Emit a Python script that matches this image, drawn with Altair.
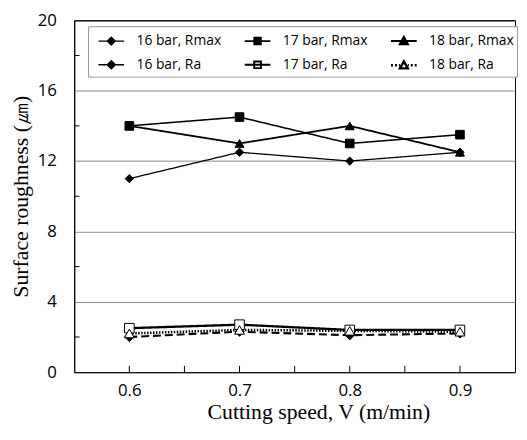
import altair as alt
import pandas as pd

# ---- data ----
speeds = [0.6, 0.7, 0.8, 0.9]
series = ["16 bar, Rmax", "17 bar, Rmax", "18 bar, Rmax",
          "16 bar, Ra", "17 bar, Ra", "18 bar, Ra"]
r16_rmax = [11.0, 12.5, 12.0, 12.5]
r17_rmax = [14.0, 14.5, 13.0, 13.5]
r18_rmax = [14.0, 13.0, 14.0, 12.5]
r16_ra = [2.0, 2.3, 2.1, 2.2]
r17_ra = [2.5, 2.7, 2.4, 2.4]
r18_ra = [2.2, 2.4, 2.35, 2.3]
all_values = [r16_rmax, r17_rmax, r18_rmax, r16_ra, r17_ra, r18_ra]

y_major = [0, 4, 8, 12, 16, 20]
y_minor = [2, 6, 10, 14, 18]
x_labels = [0.6, 0.7, 0.8, 0.9]
x_minor = [0.6, 0.65, 0.7, 0.75, 0.8, 0.85, 0.9]
x_min, x_max = 0.55, 0.95
y_min, y_max = 0, 20

# inward tick marks (length expressed as a small fraction of each axis range)
x_tick_len = 0.36    # in y units
y_tick_len = 0.0048  # in x units

rows = []
for name, vals in zip(series, all_values):
    for s, v in zip(speeds, vals):
        rows.append({"speed": s, "roughness": v, "series": name, "kind": "data",
                     "speed2": s, "roughness2": v})
for t in x_minor:
    rows.append({"speed": t, "roughness": y_min, "series": "", "kind": "xtick",
                 "speed2": t, "roughness2": y_min + x_tick_len})
for t in y_minor:
    rows.append({"speed": x_min, "roughness": t, "series": "", "kind": "ytick",
                 "speed2": x_min + y_tick_len, "roughness2": t})
df = pd.DataFrame(rows)

# ---- styles ----
dashes = [[1, 0], [1, 0], [1, 0], [8, 4], [1, 0], [1.5, 1.5]]
widths = [1.3, 2.6, 1.3, 2.6, 1.3, 1.5]
shapes = ["diamond", "square", "triangle-up", "diamond", "square", "triangle-up"]
fills = ["black", "black", "black", "black", "white", "white"]
sizes = [70, 100, 80, 70, 100, 70]

# legend is filled column by column (2 rows x 3 columns)
legend_order = ["16 bar, Rmax", "16 bar, Ra", "17 bar, Rmax",
                "17 bar, Ra", "18 bar, Rmax", "18 bar, Ra"]
line_solid = "M-1.3,0L1.3,0"
line_dotted = ("M-1.3,0L-1.1,0M-0.9,0L-0.7,0M-0.5,0L-0.4,0"
               "M0.4,0L0.5,0M0.7,0L0.9,0M1.1,0L1.3,0")
diamond = "M0,-0.4L0.4,0L0,0.4L-0.4,0Z"
square = "M-0.34,-0.34L0.34,-0.34L0.34,0.34L-0.34,0.34Z"
triangle = "M0,-0.4L0.4,0.32L-0.4,0.32Z"
legend_paths = [line_solid + diamond, line_solid + diamond,
                line_solid + square, line_solid + square,
                line_solid + triangle, line_dotted + triangle]
legend_fills = ["black", "black", "black", "white", "black", "white"]
legend_widths = [1.3, 2.4, 2.4, 1.2, 1.3, 1.2]

x_scale = alt.Scale(domain=[x_min, x_max], nice=False, zero=False)
y_scale = alt.Scale(domain=[y_min, y_max], nice=False)
x_axis = alt.Axis(values=x_labels, format=".1f", ticks=False, grid=False,
                  title="Cutting speed, V (m/min)", labelPadding=11, titlePadding=3,
                  titleX=247, titleAlign="center")
y_axis = alt.Axis(values=y_major, ticks=False, grid=True,
                  gridColor={"condition": {"test": "datum.value >= 20", "value": "black"},
                             "value": "#8c8c8c"},
                  title="Surface roughness (㎛)", labelPadding=18, titlePadding=5)

x_enc = alt.X("speed:Q", scale=x_scale, axis=x_axis)
y_enc = alt.Y("roughness:Q", scale=y_scale, axis=y_axis)

base = alt.Chart(df)
data_part = base.transform_filter("datum.kind == 'data'")

lines = data_part.mark_line(color="black").encode(
    x=x_enc, y=y_enc, detail="series:N",
    strokeDash=alt.StrokeDash("series:N", scale=alt.Scale(domain=series, range=dashes), legend=None),
    strokeWidth=alt.StrokeWidth("series:N", scale=alt.Scale(domain=series, range=widths), legend=None),
)

points = data_part.mark_point(filled=True, stroke="black", strokeWidth=1, opacity=1).encode(
    x=x_enc, y=y_enc,
    shape=alt.Shape("series:N", scale=alt.Scale(domain=series, range=shapes), legend=None),
    fill=alt.Fill("series:N", scale=alt.Scale(domain=series, range=fills), legend=None),
    size=alt.Size("series:N", scale=alt.Scale(domain=series, range=sizes), legend=None),
)

ticks = base.transform_filter("datum.kind != 'data'").mark_rule(
    color="black", strokeWidth=1, opacity=1).encode(
    x=x_enc, y=y_enc, x2="speed2:Q", y2="roughness2:Q",
)

leg = alt.Legend(title=None, orient="none", legendX=14, legendY=6, columns=3,
                 symbolSize=400, symbolOffset=9,
                 labelFont="Open Sans", labelFontSize=14, labelColor="black",
                 strokeColor="#999999", fillColor="white", padding=3,
                 rowPadding=5, columnPadding=16, labelOffset=14, labelLimit=200)

legend_layer = base.transform_filter("false").mark_point(
    filled=True, opacity=1).encode(
    x=x_enc, y=y_enc,
    shape=alt.Shape("series:N", scale=alt.Scale(domain=legend_order, range=legend_paths), legend=leg),
    fill=alt.Fill("series:N", scale=alt.Scale(domain=legend_order, range=legend_fills), legend=leg),
    stroke=alt.Stroke("series:N", scale=alt.Scale(domain=legend_order, range=["black"] * 6), legend=leg),
    strokeWidth=alt.StrokeWidth("series:N", scale=alt.Scale(domain=legend_order, range=legend_widths), legend=leg),
)

chart = alt.layer(lines, points, ticks, legend_layer).resolve_scale(
    shape="independent", fill="independent", strokeWidth="independent",
    strokeDash="independent", size="independent", stroke="independent",
).properties(
    width=446, height=356,
    padding={"left": 1, "top": 1, "right": 1, "bottom": 0},
).configure_view(
    stroke="black", strokeWidth=1,
).configure_axis(
    domainColor="black", domainWidth=1,
    labelFont="Open Sans", labelFontSize=17, labelColor="black",
    titleFont="Liberation Serif", titleFontSize=22, titleFontWeight="normal", titleColor="black",
)

chart.save("out.html", embed_options={"renderer": "svg", "actions": False})
